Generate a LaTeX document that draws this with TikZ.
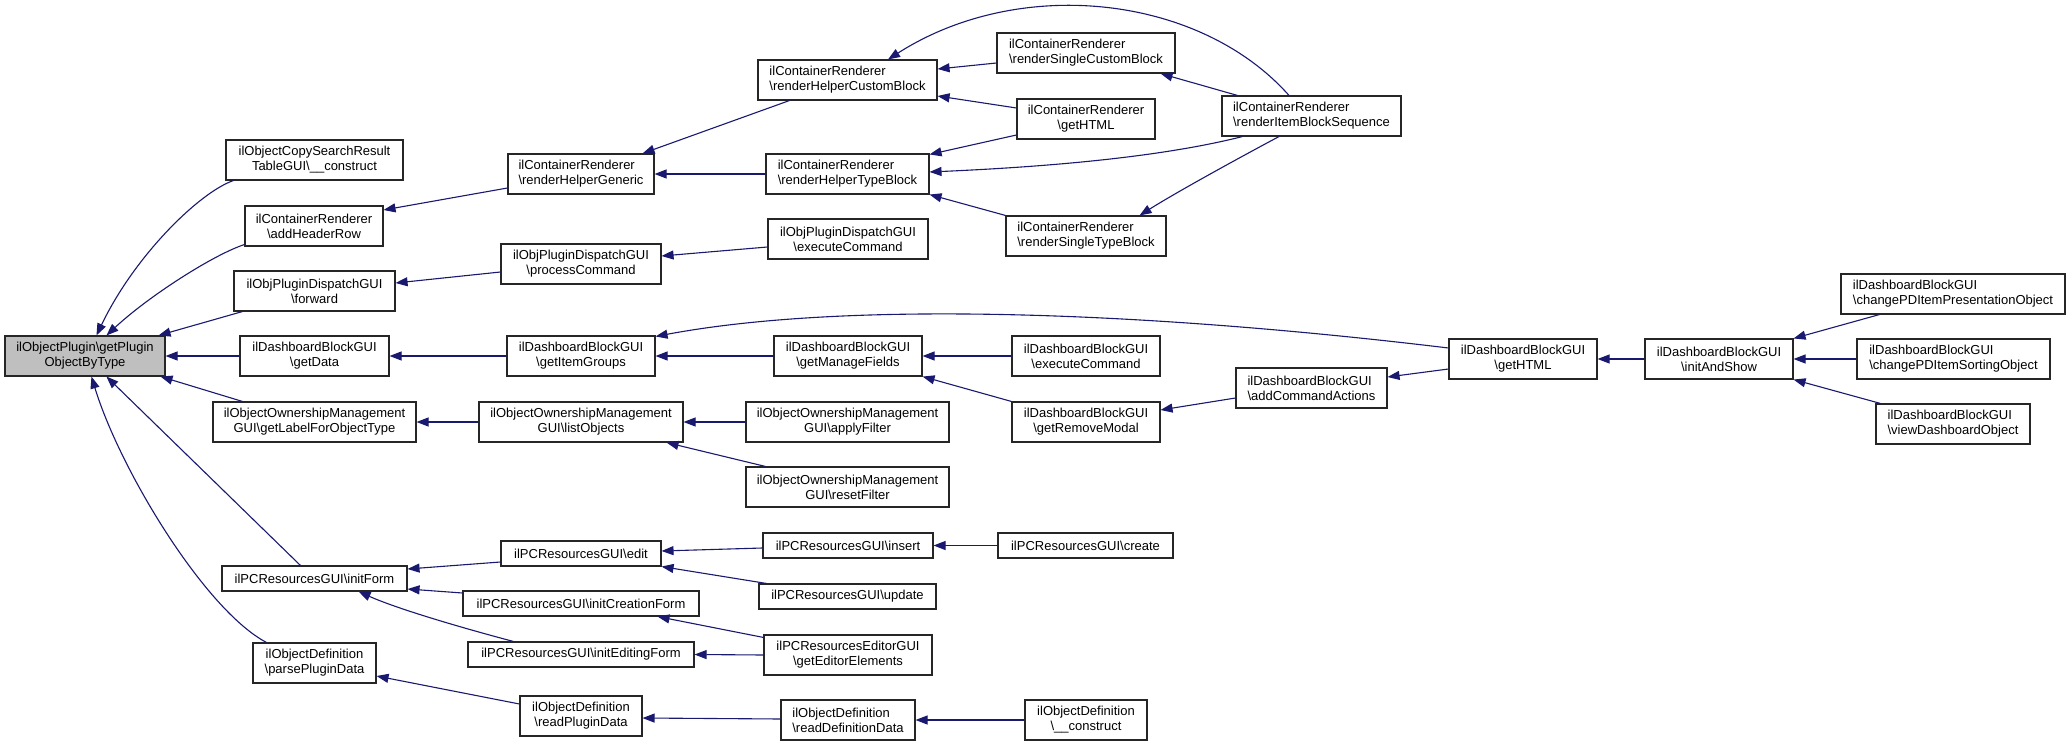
\documentclass[tikz,border=0pt]{standalone}
\usepackage{fontspec}
\setmainfont{Liberation Sans}
\usetikzlibrary{arrows.meta,calc}
\definecolor{navy}{HTML}{191970}
\begin{document}
\begin{tikzpicture}[x=1pt,y=-1pt,
  box/.style={draw=black!85,line width=1.1pt,inner sep=0pt,font=\fontsize{13}{15}\selectfont,align=center},
  lbox/.style={box,align=left},
  call/.style={draw=navy,line width=1.1pt,-{Triangle[length=12pt,width=9pt,fill=navy]}}]
\fill[white] (0,0) rectangle (2071,746);
\useasboundingbox (0,0) rectangle (2071,746);
% column 1
\node[box,fill=gray!50,minimum width=160,minimum height=40] (root) at (85,356) {ilObjectPlugin\textbackslash getPlugin\\ObjectByType};
% column 2
\node[box,minimum width=177,minimum height=40] (copy) at (314.5,160) {ilObjectCopySearchResult\\TableGUI\textbackslash\_\_construct};
\node[box,minimum width=138,minimum height=40] (addhdr) at (314,226) {ilContainerRenderer\\\textbackslash addHeaderRow};
\node[box,minimum width=161,minimum height=40] (forward) at (314.5,291) {ilObjPluginDispatchGUI\\\textbackslash forward};
\node[box,minimum width=149,minimum height=40] (getdata) at (314.5,356) {ilDashboardBlockGUI\\\textbackslash getData};
\node[box,minimum width=203,minimum height=40] (getlabel) at (314.5,422) {ilObjectOwnershipManagement\\GUI\textbackslash getLabelForObjectType};
\node[box,minimum width=185,minimum height=25] (initform) at (314.5,578.5) {ilPCResourcesGUI\textbackslash initForm};
\node[box,minimum width=123,minimum height=40] (parsepd) at (314.5,663) {ilObjectDefinition\\\textbackslash parsePluginData};
% column 3
\node[lbox,minimum width=146,minimum height=40] (rhg) at (581,174) {ilContainerRenderer\\\textbackslash renderHelperGeneric};
\node[box,minimum width=160,minimum height=40] (proc) at (581,264) {ilObjPluginDispatchGUI\\\textbackslash processCommand};
\node[box,minimum width=148,minimum height=40] (items) at (581,356) {ilDashboardBlockGUI\\\textbackslash getItemGroups};
\node[box,minimum width=204,minimum height=40] (list) at (581,422) {ilObjectOwnershipManagement\\GUI\textbackslash listObjects};
\node[box,minimum width=160,minimum height=25] (edit) at (581,553.5) {ilPCResourcesGUI\textbackslash edit};
\node[box,minimum width=236,minimum height=25] (icf) at (581,603.5) {ilPCResourcesGUI\textbackslash initCreationForm};
\node[box,minimum width=226,minimum height=25] (ief) at (581,654.5) {ilPCResourcesGUI\textbackslash initEditingForm};
\node[box,minimum width=122,minimum height=40] (rpd) at (581,716) {ilObjectDefinition\\\textbackslash readPluginData};
% column 4
\node[lbox,minimum width=179,minimum height=40] (rhcb) at (847.5,80) {ilContainerRenderer\\\textbackslash renderHelperCustomBlock};
\node[lbox,minimum width=163,minimum height=40] (rhtb) at (847.5,174) {ilContainerRenderer\\\textbackslash renderHelperTypeBlock};
\node[box,minimum width=160,minimum height=40] (opexec) at (848,239) {ilObjPluginDispatchGUI\\\textbackslash executeCommand};
\node[box,minimum width=148,minimum height=40] (mf) at (848,356) {ilDashboardBlockGUI\\\textbackslash getManageFields};
\node[box,minimum width=203,minimum height=40] (apply) at (847.5,422) {ilObjectOwnershipManagement\\GUI\textbackslash applyFilter};
\node[box,minimum width=203,minimum height=40] (reset) at (847.5,487) {ilObjectOwnershipManagement\\GUI\textbackslash resetFilter};
\node[box,minimum width=170,minimum height=25] (insert) at (848,545.5) {ilPCResourcesGUI\textbackslash insert};
\node[box,minimum width=177,minimum height=25] (update) at (847.5,596.5) {ilPCResourcesGUI\textbackslash update};
\node[box,minimum width=168,minimum height=40] (gee) at (848,655) {ilPCResourcesEditorGUI\\\textbackslash getEditorElements};
\node[lbox,minimum width=134,minimum height=40] (rdd) at (848,720) {ilObjectDefinition\\\textbackslash readDefinitionData};
% column 5
\node[lbox,minimum width=178,minimum height=40] (rscb) at (1086,53) {ilContainerRenderer\\\textbackslash renderSingleCustomBlock};
\node[box,minimum width=138,minimum height=40] (crhtml) at (1086,119) {ilContainerRenderer\\\textbackslash getHTML};
\node[lbox,minimum width=160,minimum height=40] (rstb) at (1086,236) {ilContainerRenderer\\\textbackslash renderSingleTypeBlock};
\node[box,minimum width=148,minimum height=40] (dexec) at (1086,356) {ilDashboardBlockGUI\\\textbackslash executeCommand};
\node[box,minimum width=148,minimum height=40] (grm) at (1086,422) {ilDashboardBlockGUI\\\textbackslash getRemoveModal};
\node[box,minimum width=175,minimum height=25] (create) at (1085.5,545.5) {ilPCResourcesGUI\textbackslash create};
\node[box,minimum width=122,minimum height=40] (odc) at (1086,720) {ilObjectDefinition\\\textbackslash\_\_construct};
% column 6
\node[lbox,minimum width=179,minimum height=40] (ribs) at (1311.5,116) {ilContainerRenderer\\\textbackslash renderItemBlockSequence};
\node[lbox,minimum width=151,minimum height=40] (aca) at (1311.5,388) {ilDashboardBlockGUI\\\textbackslash addCommandActions};
% columns 7-9
\node[box,minimum width=148,minimum height=40] (dhtml) at (1523,359) {ilDashboardBlockGUI\\\textbackslash getHTML};
\node[box,minimum width=148,minimum height=40] (ias) at (1719,359) {ilDashboardBlockGUI\\\textbackslash initAndShow};
\node[lbox,minimum width=224,minimum height=40] (cpp) at (1953,294) {ilDashboardBlockGUI\\\textbackslash changePDItemPresentationObject};
\node[lbox,minimum width=193,minimum height=40] (cps) at (1953.5,359) {ilDashboardBlockGUI\\\textbackslash changePDItemSortingObject};
\node[lbox,minimum width=154,minimum height=40] (vdo) at (1953,424) {ilDashboardBlockGUI\\\textbackslash viewDashboardObject};
% edges into root
\draw[call] ($(copy.south west)+(8,0)$) .. controls (200,192) and (135,255) .. ($(root.north west)+(92,0)$);
\draw[call] ($(addhdr.south west)+(0,-2)$) .. controls (215,254) and (150,295) .. ($(root.north west)+(102,0)$);
\draw[call] ($(forward.south west)+(9,0)$) -- ($(root.north east)+(-7,0)$);
\draw[call] (getdata.west) -- (root.east);
\draw[call] ($(getlabel.north west)+(30,0)$) -- ($(root.south east)+(-5,0)$);
\draw[call] ($(initform.north west)+(79,0)$) -- ($(root.south west)+(102,0)$);
\draw[call] ($(parsepd.north west)+(14,0)$) .. controls (205,610) and (120,470) .. ($(root.south west)+(87,0)$);
% column 3 -> 2
\draw[call] ($(rhg.west)+(0,14)$) -- ($(addhdr.east)+(0,-16)$);
\draw[call] ($(proc.west)+(0,8)$) -- ($(forward.east)+(0,-8)$);
\draw[call] (items.west) -- (getdata.east);
\draw[call] (list.west) -- (getlabel.east);
\draw[call] ($(edit.west)+(0,8.5)$) -- ($(initform.east)+(0,-9.5)$);
\draw[call] ($(icf.west)+(0,-10.5)$) -- ($(initform.east)+(0,10.5)$);
\draw[call] ($(ief.north west)+(46,0)$) .. controls (470,630) and (400,610) .. ($(initform.south east)+(-49,0)$);
\draw[call] ($(rpd.west)+(0,-12)$) -- ($(parsepd.east)+(0,13)$);
% column 4 -> 3
\draw[call] ($(rhcb.south west)+(32,0)$) -- ($(rhg.north east)+(-12,0)$);
\draw[call] (rhtb.west) -- (rhg.east);
\draw[call] ($(opexec.west)+(0,8)$) -- ($(proc.east)+(0,-8)$);
\draw[call] (mf.west) -- (items.east);
\draw[call] ($(dhtml.west)+(0,-11)$) .. controls (1150,312) and (850,300) .. ($(items.north east)+(0,1)$);
\draw[call] (apply.west) -- (list.east);
\draw[call] ($(reset.north west)+(20,0)$) -- ($(list.south east)+(-17,0)$);
\draw[call] ($(insert.west)+(0,2.5)$) -- ($(edit.east)+(0,-2.5)$);
\draw[call] ($(update.north west)+(8,0)$) -- ($(edit.south east)+(0,0)$);
\draw[call] ($(gee.north west)+(0,3)$) -- ($(icf.south east)+(-42,0)$);
\draw[call] (gee.west) -- (ief.east);
\draw[call] ($(rdd.west)+(0,-1)$) -- ($(rpd.east)+(0,2)$);
% column 5/6 -> 4
\draw[call] ($(rscb.west)+(0,10)$) -- ($(rhcb.east)+(0,-11)$);
\draw[call] ($(crhtml.west)+(0,-11)$) -- ($(rhcb.east)+(0,16)$);
\draw[call] ($(crhtml.west)+(0,16)$) -- ($(rhtb.north east)+(0,1)$);
\draw[call] (rstb.north west) -- (rhtb.south east);
\draw[call] (dexec.west) -- (mf.east);
\draw[call] (grm.north west) -- (mf.south east);
\draw[call] (create.west) -- (insert.east);
\draw[call] (odc.west) -- (rdd.east);
\draw[call] ($(ribs.north)+(-22.5,0)$) .. controls (1200,-5) and (1020,-25) .. ($(rhcb.north)+(40.5,0)$);
\draw[call] ($(ribs.north west)+(16,0)$) -- ($(rscb.south east)+(-15,0)$);
\draw[call] ($(ribs.south west)+(21,0)$) .. controls (1150,160) and (1020,168) .. ($(rhtb.east)+(0,-2)$);
\draw[call] ($(ribs.south)+(-32.5,0)$) .. controls (1250,152) and (1180,190) .. ($(rstb.north east)+(-27,0)$);
% dashboard chain
\draw[call] ($(aca.west)+(0,10)$) -- ($(grm.east)+(0,-12)$);
\draw[call] ($(dhtml.west)+(0,10)$) -- ($(aca.east)+(0,-11)$);
\draw[call] (ias.west) -- (dhtml.east);
\draw[call] ($(cpp.south west)+(39,0)$) -- (ias.north east);
\draw[call] (cps.west) -- (ias.east);
\draw[call] ($(vdo.north west)+(5,0)$) -- (ias.south east);
\end{tikzpicture}
\end{document}
